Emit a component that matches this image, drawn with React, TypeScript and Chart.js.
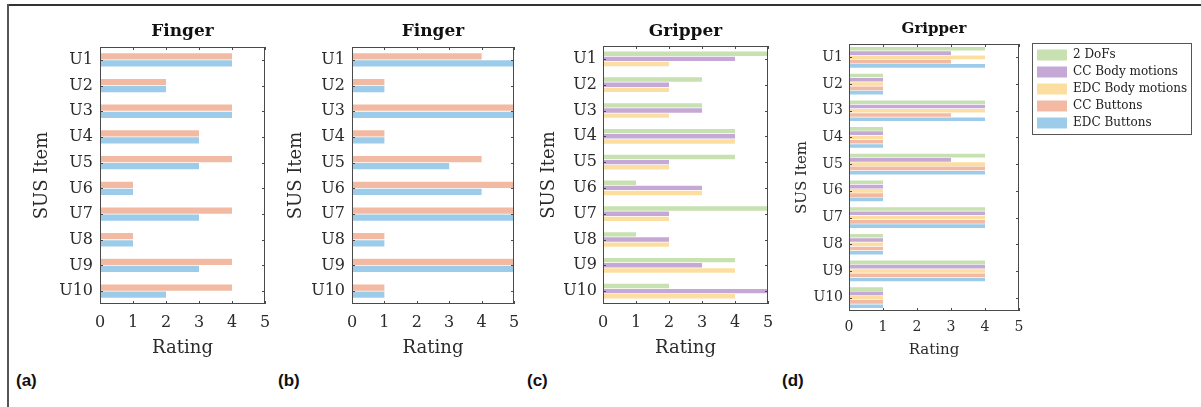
import React, { useEffect, useRef } from 'react';
import { Chart, registerables } from 'chart.js';

Chart.register(...registerables);

// ---------- data ----------
const categories = ['U1', 'U2', 'U3', 'U4', 'U5', 'U6', 'U7', 'U8', 'U9', 'U10'];
const ratingTicks = [0, 1, 2, 3, 4, 5];

const fingerA_CCButtons = [4, 2, 4, 3, 4, 1, 4, 1, 4, 4];
const fingerA_EDCButtons = [4, 2, 4, 3, 3, 1, 3, 1, 3, 2];

const fingerB_CCButtons = [4, 1, 5, 1, 4, 5, 5, 1, 5, 1];
const fingerB_EDCButtons = [5, 1, 5, 1, 3, 4, 5, 1, 5, 1];

const gripperC_2DoFs = [5, 3, 3, 4, 4, 1, 5, 1, 4, 2];
const gripperC_CCBody = [4, 2, 3, 4, 2, 3, 2, 2, 3, 5];
const gripperC_EDCBody = [2, 2, 2, 4, 2, 3, 2, 2, 4, 4];

const gripperD_2DoFs = [4, 1, 4, 1, 4, 1, 4, 1, 4, 1];
const gripperD_CCBody = [3, 1, 4, 1, 3, 1, 4, 1, 4, 1];
const gripperD_EDCBody = [4, 1, 4, 1, 4, 1, 4, 1, 4, 1];
const gripperD_CCButtons = [3, 1, 3, 1, 4, 1, 4, 1, 4, 1];
const gripperD_EDCButtons = [4, 1, 4, 1, 4, 1, 4, 1, 4, 1];

const seriesNames = ['2 DoFs', 'CC Body motions', 'EDC Body motions', 'CC Buttons', 'EDC Buttons'];
const panelTitles = ['Finger', 'Finger', 'Gripper', 'Gripper'];
const panelLetters = ['(a)', '(b)', '(c)', '(d)'];
const yAxisLabel = 'SUS Item';
const xAxisLabel = 'Rating';

// ---------- styles ----------
const COLORS: Record<string, string> = {
  '2 DoFs': 'rgb(199,225,177)',
  'CC Body motions': 'rgb(198,168,214)',
  'EDC Body motions': 'rgb(252,223,160)',
  'CC Buttons': 'rgb(242,186,162)',
  'EDC Buttons': 'rgb(157,204,234)',
};
const SERIF = '"DejaVu Serif", serif';
const TEXT = '#2b2b2b';

function ds(name: string, data: number[]) {
  return {
    label: name,
    data,
    backgroundColor: COLORS[name],
    borderColor: COLORS[name],
    borderWidth: 0,
    xAxisID: 'x',
    yAxisID: 'y',
  };
}

const boxPlugin = {
  id: 'matlabBox',
  afterDraw(chart: any) {
    const { ctx, chartArea, scales } = chart;
    const { left, right, top, bottom } = chartArea;
    ctx.save();
    ctx.strokeStyle = '#4a4a4a';
    ctx.lineWidth = 1;
    ctx.strokeRect(Math.round(left) + 0.5, Math.round(top) + 0.5, Math.round(right - left) - 1, Math.round(bottom - top) - 1);
    const tl = 3;
    ctx.beginPath();
    ratingTicks.forEach((v) => {
      const px = Math.round(scales.x.getPixelForValue(v)) + 0.5;
      ctx.moveTo(px, bottom);
      ctx.lineTo(px, bottom - tl);
      ctx.moveTo(px, top);
      ctx.lineTo(px, top + tl);
    });
    categories.forEach((_c, i) => {
      const py = Math.round(scales.y.getPixelForValue(i)) + 0.5;
      ctx.moveTo(left, py);
      ctx.lineTo(left + tl, py);
      ctx.moveTo(right, py);
      ctx.lineTo(right - tl, py);
    });
    ctx.stroke();
    const lg = chart.legend;
    if (lg && lg.options && lg.options.display && lg.legendHitBoxes && lg.legendHitBoxes.length) {
      const hb = lg.legendHitBoxes;
      const last = hb[hb.length - 1];
      const pad = lg.options.labels.padding;
      const bx = Math.round(lg.left) + 0.5;
      const by = Math.round(lg.top) - 0.5;
      const bw = Math.round(lg.width) - 1;
      const bh = Math.round(last.top + last.height + pad - lg.top) + 1;
      ctx.strokeStyle = '#555';
      ctx.strokeRect(bx, by, bw, bh);
    }
    ctx.restore();
  },
};

type PanelCfg = {
  x: number; y: number; w: number; h: number;
  yAxisW: number; xAxisH: number; padRight: number;
  title: string; titleSize: number; titlePadTop: number; titlePadBottom: number;
  tickSize: number; axisTitleSize: number;
  xTickPad: number; xTitlePadBottom: number; yTickPad: number;
  catPct: number; barPct: number;
  datasets: any[];
  legend?: boolean;
};

function buildConfig(p: PanelCfg): any {
  const scales: any = {
    x: {
      type: 'linear',
      position: 'bottom',
      min: 0,
      max: 5,
      grid: { display: false, drawTicks: false },
      border: { display: false },
      ticks: {
        stepSize: 1,
        padding: p.xTickPad,
        color: TEXT,
        font: { family: SERIF, size: p.tickSize },
        callback: (v: any) => String(v),
      },
      title: {
        display: true,
        text: xAxisLabel,
        color: TEXT,
        font: { family: SERIF, size: p.axisTitleSize },
        padding: { top: 0, bottom: p.xTitlePadBottom },
      },
      afterFit: (s: any) => { s.height = p.xAxisH; },
    },
    y: {
      type: 'category',
      position: 'left',
      labels: categories,
      offset: true,
      grid: { display: false, drawTicks: false },
      border: { display: false },
      ticks: {
        padding: p.yTickPad,
        color: TEXT,
        font: { family: SERIF, size: p.tickSize },
      },
      title: {
        display: true,
        text: yAxisLabel,
        color: TEXT,
        font: { family: SERIF, size: p.axisTitleSize },
        padding: { top: 0, bottom: 0 },
      },
      afterFit: (s: any) => { s.width = p.yAxisW; },
    },
  };
  if (p.legend) {
    scales.y2 = {
      type: 'linear',
      position: 'right',
      display: true,
      grid: { display: false, drawTicks: false },
      border: { display: false },
      ticks: { display: false },
      afterFit: (s: any) => { s.width = 13; },
    };
  }
  return {
    type: 'bar',
    data: { labels: categories, datasets: p.datasets },
    options: {
      indexAxis: 'y',
      responsive: false,
      animation: false,
      events: [],
      datasets: { bar: { categoryPercentage: p.catPct, barPercentage: p.barPct } },
      layout: { padding: { left: 0, right: p.padRight, top: 0, bottom: 0 } },
      scales,
      plugins: {
        title: {
          display: true,
          text: p.title,
          fullSize: false,
          color: '#111',
          font: { family: SERIF, size: p.titleSize, weight: 'bold' },
          padding: { top: p.titlePadTop, bottom: p.titlePadBottom },
        },
        legend: p.legend
          ? {
              display: true,
              position: 'right',
              align: 'start',
              fullSize: false,
              maxWidth: 160,
              labels: {
                boxWidth: 30,
                boxHeight: 11,
                padding: 5,
                color: '#222',
                font: { family: SERIF, size: 12 },
              },
            }
          : { display: false },
        tooltip: { enabled: false },
      },
    },
    plugins: [boxPlugin],
  };
}

const panels: PanelCfg[] = [
  {
    x: 32, y: 15, w: 248, h: 350, yAxisW: 68, xAxisH: 61, padRight: 15,
    title: panelTitles[0], titleSize: 17, titlePadTop: 6, titlePadBottom: 5.6,
    tickSize: 16, axisTitleSize: 18, xTickPad: 9, xTitlePadBottom: 6, yTickPad: 7,
    catPct: 0.55, barPct: 0.88,
    datasets: [ds('CC Buttons', fingerA_CCButtons), ds('EDC Buttons', fingerA_EDCButtons)],
  },
  {
    x: 286, y: 15, w: 243, h: 350, yAxisW: 66, xAxisH: 61, padRight: 15,
    title: panelTitles[1], titleSize: 17, titlePadTop: 6, titlePadBottom: 5.6,
    tickSize: 16, axisTitleSize: 18, xTickPad: 9, xTitlePadBottom: 6, yTickPad: 7,
    catPct: 0.55, barPct: 0.88,
    datasets: [ds('CC Buttons', fingerB_CCButtons), ds('EDC Buttons', fingerB_EDCButtons)],
  },
  {
    x: 539, y: 15, w: 244, h: 350, yAxisW: 64, xAxisH: 61, padRight: 15,
    title: panelTitles[2], titleSize: 17, titlePadTop: 6, titlePadBottom: 4.6,
    tickSize: 16, axisTitleSize: 18, xTickPad: 9, xTitlePadBottom: 6, yTickPad: 6,
    catPct: 0.6, barPct: 0.85,
    datasets: [
      ds('2 DoFs', gripperC_2DoFs),
      ds('CC Body motions', gripperC_CCBody),
      ds('EDC Body motions', gripperC_EDCBody),
    ],
  },
  {
    x: 793, y: 15, w: 408, h: 350, yAxisW: 56, xAxisH: 54, padRight: 9,
    title: panelTitles[3], titleSize: 15, titlePadTop: 5, titlePadBottom: 6,
    tickSize: 14, axisTitleSize: 15, xTickPad: 7.6, xTitlePadBottom: 6, yTickPad: 6,
    catPct: 0.8, barPct: 0.85,
    legend: true,
    datasets: [
      ds(seriesNames[0], gripperD_2DoFs),
      ds(seriesNames[1], gripperD_CCBody),
      ds(seriesNames[2], gripperD_EDCBody),
      ds(seriesNames[3], gripperD_CCButtons),
      ds(seriesNames[4], gripperD_EDCButtons),
    ],
  },
];

const letterPos = [16, 278, 527, 782];

function Panel({ cfg }: { cfg: PanelCfg }) {
  const ref = useRef<HTMLCanvasElement>(null);
  useEffect(() => {
    const chart = new Chart(ref.current as HTMLCanvasElement, buildConfig(cfg));
    return () => chart.destroy();
  }, [cfg]);
  return (
    <canvas
      ref={ref}
      width={cfg.w}
      height={cfg.h}
      style={{ position: 'absolute', left: cfg.x, top: cfg.y, width: cfg.w, height: cfg.h }}
    />
  );
}

export default function App() {
  return (
    <div style={{ position: 'absolute', left: 0, top: 0, width: 1201, height: 407, background: '#fff', overflow: 'hidden' }}>
      <div style={{ position: 'absolute', left: 7, top: 4, width: 1194, height: 2, background: '#333' }} />
      <div style={{ position: 'absolute', left: 7, top: 4, width: 2, height: 403, background: '#555' }} />
      {panels.map((p, i) => (
        <Panel key={i} cfg={p} />
      ))}
      {panelLetters.map((t, i) => (
        <div
          key={t}
          style={{
            position: 'absolute',
            left: letterPos[i],
            top: 371,
            fontFamily: '"Liberation Sans", Arial, sans-serif',
            fontWeight: 'bold',
            fontSize: 17,
            lineHeight: '20px',
            color: '#111',
          }}
        >
          {t}
        </div>
      ))}
    </div>
  );
}
